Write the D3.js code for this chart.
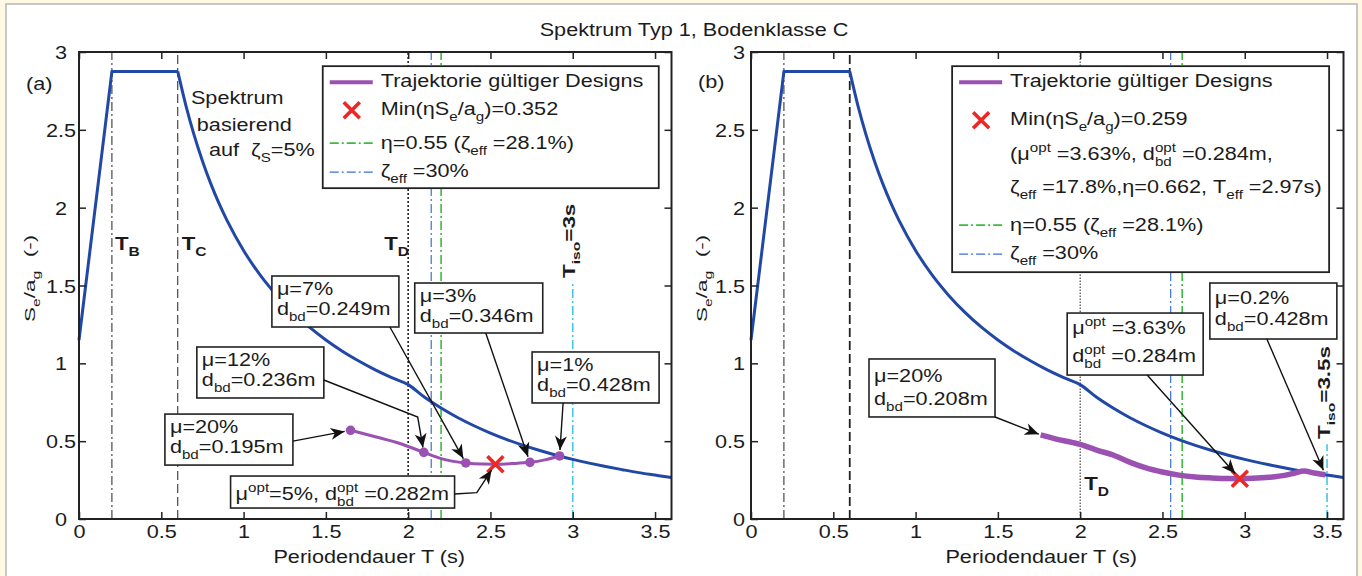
<!DOCTYPE html>
<html><head><meta charset="utf-8">
<script src="https://cdn.jsdelivr.net/npm/d3@7"></script>
<style>
body{margin:0;background:#fdf9e4}
svg{display:block}
text{font-family:"Liberation Sans",Arial,Helvetica,sans-serif;white-space:pre}
</style></head>
<body><svg id="c" width="1362" height="576"></svg>
<script>
// ---------------- DATA ----------------
const xTicks = [0, 0.5, 1, 1.5, 2, 2.5, 3, 3.5];
const xTickLabels = ["0", "0.5", "1", "1.5", "2", "2.5", "3", "3.5"];
const yTicks = [0, 0.5, 1, 1.5, 2, 2.5, 3];
const yTickLabels = ["0", "0.5", "1", "1.5", "2", "2.5", "3"];

// elastic spectrum
const specT = [0, 0.2, 0.6, 0.65, 0.7, 0.75, 0.8, 0.85, 0.9, 1.0, 1.1, 1.2, 1.3, 1.4, 1.5, 1.6, 1.7, 1.8, 1.9, 2.0,
               2.1, 2.2, 2.3, 2.4, 2.5, 2.6, 2.7, 2.8, 2.9, 3.0, 3.1, 3.2, 3.3, 3.4, 3.5, 3.6];
const specV = [1.15, 2.875, 2.875, 2.654, 2.464, 2.300, 2.156, 2.029, 1.917, 1.725, 1.568, 1.438, 1.327, 1.232, 1.150, 1.078, 1.015, 0.958, 0.908, 0.863,
               0.782, 0.713, 0.652, 0.599, 0.552, 0.510, 0.473, 0.440, 0.410, 0.383, 0.359, 0.337, 0.317, 0.298, 0.282, 0.266];

// panel (a): trajectory of valid designs
const trajA_T = [1.65, 1.80, 1.95, 2.095, 2.2, 2.35, 2.45, 2.53, 2.63, 2.74, 2.83, 2.92];
const trajA_V = [0.570, 0.528, 0.485, 0.428, 0.388, 0.360, 0.353, 0.352, 0.356, 0.364, 0.380, 0.405];
const markA_T = [1.65, 2.095, 2.35, 2.74, 2.92];
const markA_V = [0.570, 0.428, 0.360, 0.364, 0.405];
const markA_mu = ["20%", "12%", "7%", "3%", "1%"];
const markA_d = ["0.195m", "0.236m", "0.249m", "0.346m", "0.428m"];
const minA = {T: 2.53, V: 0.352, label: "0.352", mu: "5%", d: "0.282m"};

// panel (b)
const trajB_T = [1.76, 1.85, 1.95, 2.0, 2.05, 2.1, 2.2, 2.3, 2.4, 2.5, 2.6, 2.7, 2.8, 2.9, 2.97, 3.05, 3.15, 3.25, 3.3, 3.36, 3.42, 3.49];
const trajB_V = [0.540, 0.515, 0.492, 0.480, 0.462, 0.443, 0.411, 0.365, 0.328, 0.302, 0.282, 0.270, 0.264, 0.260, 0.259, 0.261, 0.268, 0.282, 0.294, 0.308, 0.296, 0.284];
const minB = {T: 2.97, V: 0.259, label: "0.259", mu: "3.63%", d: "0.284m", zeta: "17.8%", eta: "0.662", Teff: "2.97s"};
const endB_mu = ["20%", "0.2%"];
const endB_d = ["0.208m", "0.428m"];

// reference periods
const TB = 0.2, TC = 0.6, TD = 2.0;
const zeta30_T = [2.14, 2.55];   // (a), (b)
const eta055_T = [2.20, 2.62];
const Tiso = [3.0, 3.5];
const TisoLabel = ["3s", "3.5s"];

// ---------------- LAYOUT ----------------
const SX = 1.17, FS = 18.5;
const BLUE = "#2248a6", PURPLE = "#9b51b1", RED = "#ee2626", GREEN = "#3dbb3d", LBLUE = "#3b6fd6", CYAN = "#44c7e4", INK = "#1b1b1b";

const svg = d3.select("#c");
svg.append("rect").attr("x", 0).attr("y", 0).attr("width", 1362).attr("height", 576).attr("fill", "#fdf9e4");
svg.append("rect").attr("x", 6).attr("y", 4).attr("width", 1351).attr("height", 580).attr("fill", "#fff").attr("stroke", "#b5b5b5").attr("stroke-width", 1.5);

const defs = svg.append("defs");
defs.append("marker").attr("id", "ah").attr("viewBox", "-15 -7 16 14").attr("refX", 0).attr("refY", 0)
  .attr("markerWidth", 16).attr("markerHeight", 14).attr("markerUnits", "userSpaceOnUse").attr("orient", "auto")
  .append("path").attr("d", "M0,0 L-14,-6 L-10,0 L-14,6 Z").attr("fill", "#111");

function rich(parent, x, y, segs, opt = {}) {
  const fs = opt.fs || FS, fss = fs * 0.7;
  const tr = opt.rot ? `translate(${x},${y}) rotate(-90) scale(${opt.ts || 1},1)` : `translate(${x},${y}) scale(${SX},1)`;
  const g = parent.append("g").attr("transform", tr);
  const t = g.append("text").attr("text-anchor", opt.anchor || "start").attr("fill", opt.fill || INK)
    .style("font-size", fs + "px").style("font-weight", opt.bold ? "bold" : null);
  if (typeof segs === "string") segs = [segs];
  const subD = fs * 0.3, supD = -fs * 0.42;
  let off = 0, pend = 0;
  segs.forEach(s => {
    if (typeof s === "string") s = {t: s};
    if (s.stack) {
      const a = t.append("tspan").text(s.sup).style("font-size", fss + "px").attr("dy", supD - off);
      if (pend) a.attr("dx", pend); pend = 0;
      const la = a.node().getComputedTextLength();
      const b = t.append("tspan").text(s.stack).style("font-size", fss + "px").attr("dx", -la).attr("dy", subD - supD);
      const lb = b.node().getComputedTextLength();
      off = subD; pend = Math.max(0, la - lb);
    } else {
      const target = s.sub ? subD : (s.sup ? supD : 0);
      const sp = t.append("tspan").text(s.t).attr("dy", target - off);
      if (pend) sp.attr("dx", pend); pend = 0;
      if (s.sub || s.sup) sp.style("font-size", fss + "px");
      if (s.dx) sp.attr("dx", s.dx);
      off = target;
    }
  });
  return g;
}

// title
rich(svg, 694, 36, "Spektrum Typ 1, Bodenklasse C", {anchor: "middle"});

function panel(cfg) {
  const x = d3.scaleLinear().domain([0, 3.6]).range([cfg.x0, cfg.x0 + 592.5]);
  const y = d3.scaleLinear().domain([0, 3]).range([519, 52]);
  const g = svg.append("g");
  const p = cfg.idx;

  // vertical reference lines
  const vline = (T, v0, v1, col, w, dash) => g.append("line").attr("x1", x(T)).attr("x2", x(T)).attr("y1", y(v0)).attr("y2", y(v1))
    .attr("stroke", col).attr("stroke-width", w).attr("stroke-dasharray", dash);
  vline(TB, 0, 3, "#222", 1, "9,3,2,3");
  vline(TC, 0, 3, "#222", p === 0 ? 1 : 1.8, "9,4");
  vline(TD, 0, 3, "#222", p === 0 ? 1.6 : 1, p === 0 ? "2,2" : "1.5,1.5");
  vline(zeta30_T[p], 0, 3, LBLUE, 1.2, "9,3,2,3");
  vline(eta055_T[p], 0, 3, GREEN, 1.6, "9,3,2,3");
  vline(Tiso[p], 0, p === 0 ? 1.53 : 0.48, CYAN, 1.6, "9,3,2,3");

  // spectrum
  const pts = specT.map((t, i) => [t, specV[i]]);
  const lineLin = d3.line().x(d => x(d[0])).y(d => y(d[1]));
  const lineMono = d3.line().x(d => x(d[0])).y(d => y(d[1])).curve(d3.curveMonotoneX);
  g.append("path").attr("d", lineLin(pts.slice(0, 3))).attr("fill", "none").attr("stroke", BLUE).attr("stroke-width", 3).attr("stroke-linejoin", "round");
  g.append("path").attr("d", lineMono(pts.slice(2))).attr("fill", "none").attr("stroke", BLUE).attr("stroke-width", 3);

  // trajectory
  const tT = p === 0 ? trajA_T : trajB_T, tV = p === 0 ? trajA_V : trajB_V;
  const tp = tT.map((t, i) => [t, tV[i]]);
  g.append("path").attr("d", d3.line().x(d => x(d[0])).y(d => y(d[1])).curve(d3.curveMonotoneX)(tp))
    .attr("fill", "none").attr("stroke", PURPLE).attr("stroke-width", p === 0 ? 3 : 5.5).attr("stroke-linecap", "butt");
  if (p === 0) {
    g.selectAll("circle.m").data(markA_T).enter().append("circle")
      .attr("cx", d => x(d)).attr("cy", (d, i) => y(markA_V[i])).attr("r", 4.8).attr("fill", PURPLE);
  }
  const mn = p === 0 ? minA : minB;
  const cross = (cx, cy, s) => {
    g.append("path").attr("d", `M${cx - s},${cy - s}L${cx + s},${cy + s}M${cx - s},${cy + s}L${cx + s},${cy - s}`)
      .attr("stroke", RED).attr("stroke-width", 3.6).attr("fill", "none");
  };
  cross(x(mn.T), y(mn.V), 8);

  // axes
  const ax = d3.axisBottom(x).tickValues(xTicks).tickFormat((d, i) => xTickLabels[i]).tickSizeInner(-7).tickSizeOuter(0);
  const gb = g.append("g").attr("transform", "translate(0,519)").call(ax);
  gb.selectAll("text").attr("y", 19).attr("dy", 0).attr("transform", `scale(${SX},1)`).style("font-size", FS + "px").attr("fill", INK);
  const gt = g.append("g").attr("transform", "translate(0,52)").call(d3.axisTop(x).tickValues(xTicks).tickFormat("").tickSizeInner(-7).tickSizeOuter(0));
  const ay = d3.axisLeft(y).tickValues(yTicks).tickFormat((d, i) => yTickLabels[i]).tickSizeInner(-7).tickSizeOuter(0);
  const gl = g.append("g").attr("transform", `translate(${cfg.x0},0)`).call(ay);
  gl.selectAll("text").attr("dy", "0.36em").attr("transform", `scale(${SX},1)`).style("font-size", FS + "px").attr("fill", INK)
    .attr("text-anchor", p === 0 ? "middle" : "end").attr("x", p === 0 ? -18 / SX : -6 / SX);
  const gr = g.append("g").attr("transform", `translate(${cfg.x0 + 592.5},0)`).call(d3.axisRight(y).tickValues(yTicks).tickFormat("").tickSizeInner(-7).tickSizeOuter(0));
  [gb, gt, gl, gr].forEach(a => { a.select(".domain").remove(); a.selectAll(".tick line").attr("stroke", "#222").attr("stroke-width", 1.5); a.attr("font-family", null); });
  g.append("rect").attr("x", x(0)).attr("y", y(3)).attr("width", x(3.6) - x(0)).attr("height", y(0) - y(3))
    .attr("fill", "none").attr("stroke", "#222").attr("stroke-width", 2);

  // axis titles
  rich(g, (x(0) + x(3.6)) / 2 - 6, 563, "Periodendauer T (s)", {anchor: "middle"});
  rich(g, cfg.x0 - 44, 322, ["S", {t: "e", sub: 1}, "/a", {t: "g", sub: 1}, {t: "(-)", dx: 9}], {rot: 1, fs: 15, ts: 1.5});
  rich(g, cfg.x0 - 53, p === 0 ? 90 : 88, p === 0 ? "(a)" : "(b)");

  // Tiso label
  rich(g, x(Tiso[p]) + (p === 0 ? 2 : 3), p === 0 ? 278 : 439, ["T", {t: "iso", sub: 1}, "=" + TisoLabel[p]], {bold: 1, rot: 1, fs: 16, ts: 1.4});

  // T labels
  if (p === 0) {
    rich(g, x(TB) + 3, 250, ["T", {t: "B", sub: 1}], {bold: 1, fs: 19});
    rich(g, x(TC) + 4, 250, ["T", {t: "C", sub: 1}], {bold: 1, fs: 19});
    rich(g, x(TD) - 24, 250, ["T", {t: "D", sub: 1}], {bold: 1, fs: 19});
    rich(g, x(0.68), 104, "Spektrum");
    rich(g, x(0.716), 131, "basierend");
    rich(g, x(0.79), 156, ["auf  ζ", {t: "S", sub: 1}, "=5%"]);
  } else {
    rich(g, x(TD) + 4, 490, ["T", {t: "D", sub: 1}], {bold: 1, fs: 19});
  }

  // legend
  const L = cfg.leg;
  const lg = g.append("g").attr("transform", `translate(${x(L.T)},${y(L.V)})`);
  lg.append("rect").attr("width", L.w).attr("height", L.h).attr("fill", "#fff").attr("stroke", "#222").attr("stroke-width", 1.8);
  const lx0 = 7, lx1 = 50, tx = 58;
  lg.append("line").attr("x1", lx0).attr("x2", lx1).attr("y1", 16).attr("y2", 16).attr("stroke", PURPLE).attr("stroke-width", 4);
  rich(lg, tx, 21, "Trajektorie gültiger Designs");
  const xc = 29, yc = L.xRow;
  lg.append("path").attr("d", `M${xc - 8},${yc - 8}L${xc + 8},${yc + 8}M${xc - 8},${yc + 8}L${xc + 8},${yc - 8}`).attr("stroke", RED).attr("stroke-width", 3.6);
  rich(lg, tx, yc + 5, ["Min(ηS", {t: "e", sub: 1}, "/a", {t: "g", sub: 1}, ")=" + mn.label]);
  if (p === 1) {
    rich(lg, tx, 94, ["(μ", {t: "opt", sup: 1}, " =" + mn.mu + ", d", {stack: "bd", sup: "opt"}, " =" + mn.d + ","]);
    rich(lg, tx, 127, ["ζ", {t: "eff", sub: 1}, " =" + mn.zeta + ",η=" + mn.eta + ", T", {t: "eff", sub: 1}, " =" + mn.Teff + ")"]);
  }
  lg.append("line").attr("x1", lx0).attr("x2", lx1).attr("y1", L.gRow).attr("y2", L.gRow).attr("stroke", GREEN).attr("stroke-width", 1.6).attr("stroke-dasharray", "9,3,2,3");
  rich(lg, tx, L.gRow + 6, ["η=0.55 (ζ", {t: "eff", sub: 1}, " =28.1%)"]);
  lg.append("line").attr("x1", lx0).attr("x2", lx1).attr("y1", L.bRow).attr("y2", L.bRow).attr("stroke", LBLUE).attr("stroke-width", 1.4).attr("stroke-dasharray", "9,3,2,3");
  rich(lg, tx, L.bRow + 5, ["ζ", {t: "eff", sub: 1}, " =30%"]);

  // annotation boxes with arrows
  cfg.boxes.forEach(b => {
    const bx = x(b.T), by = y(b.V);
    const bg = g.append("g");
    bg.append("rect").attr("x", bx).attr("y", by).attr("width", b.w).attr("height", b.h).attr("fill", "#fff").attr("stroke", "#222").attr("stroke-width", 1.6);
    b.lines.forEach(l => rich(bg, bx + 5, by + l.dy, l.segs));
    const start = [bx + b.sx, by + b.sy];
    const tgt = [x(b.tT), y(b.tV)];
    const ptsA = [start].concat((b.bend || []).map(q => [x(q[0]), y(q[1])]));
    const last = ptsA[ptsA.length - 1];
    const dx = tgt[0] - last[0], dy = tgt[1] - last[1], len = Math.hypot(dx, dy);
    const tip = [tgt[0] - dx / len * b.gap, tgt[1] - dy / len * b.gap];
    ptsA.push(tip);
    g.append("path").attr("d", d3.line()(ptsA)).attr("fill", "none").attr("stroke", "#111").attr("stroke-width", 1.4).attr("marker-end", "url(#ah)");
  });
}

const dLine = (d) => ["d", {t: "bd", sub: 1}, "=" + d];
const muLine = (m) => ["μ=" + m];

panel({
  idx: 0, x0: 79,
  leg: {T: 1.481, V: 2.909, w: 336, h: 122, xRow: 44, gRow: 77, bRow: 106},
  boxes: [
    {T: 0.522, V: 0.674, w: 128, h: 51, lines: [{dy: 19, segs: muLine(markA_mu[0])}, {dy: 39, segs: dLine(markA_d[0])}],
     sx: 128, sy: 27, tT: markA_T[0], tV: markA_V[0], gap: 6},
    {T: 0.716, V: 1.105, w: 127, h: 51, lines: [{dy: 19, segs: muLine(markA_mu[1])}, {dy: 39, segs: dLine(markA_d[1])}],
     sx: 127, sy: 33, bend: [[2.058, 0.655]], tT: markA_T[1], tV: markA_V[1], gap: 5},
    {T: 1.172, V: 1.561, w: 127, h: 51, lines: [{dy: 19, segs: muLine(markA_mu[2])}, {dy: 39, segs: dLine(markA_d[2])}],
     sx: 118, sy: 51, tT: markA_T[2], tV: markA_V[2], gap: 5},
    {T: 2.04, V: 1.516, w: 128, h: 50, lines: [{dy: 19, segs: muLine(markA_mu[3])}, {dy: 39, segs: dLine(markA_d[3])}],
     sx: 71, sy: 50, tT: markA_T[3], tV: markA_V[3], gap: 6},
    {T: 2.753, V: 1.073, w: 127, h: 51, lines: [{dy: 19, segs: muLine(markA_mu[4])}, {dy: 39, segs: dLine(markA_d[4])}],
     sx: 31, sy: 51, tT: markA_T[4], tV: markA_V[4], gap: 6},
    {T: 0.921, V: 0.276, w: 224, h: 32, lines: [{dy: 24, segs: ["μ", {t: "opt", sup: 1}, "=" + minA.mu + ", d", {stack: "bd", sup: "opt"}, " =" + minA.d]}],
     sx: 224, sy: 18, bend: [[2.417, 0.169]], tT: minA.T, tV: minA.V, gap: 7}
  ]
});

panel({
  idx: 1, x0: 751,
  leg: {T: 1.222, V: 2.909, w: 377, h: 206, xRow: 54, gRow: 159, bRow: 188},
  boxes: [
    {T: 0.717, V: 1.028, w: 126, h: 58, lines: [{dy: 23, segs: muLine(endB_mu[0])}, {dy: 46, segs: dLine(endB_d[0])}],
     sx: 126, sy: 58, tT: trajB_T[0], tV: trajB_V[0], gap: 2},
    {T: 1.921, V: 1.323, w: 136, h: 62, lines: [{dy: 21, segs: ["μ", {t: "opt", sup: 1}, " =" + minB.mu]}, {dy: 49, segs: ["d", {stack: "bd", sup: "opt"}, " =" + minB.d]}],
     sx: 80, sy: 62, tT: minB.T, tV: minB.V, gap: 7},
    {T: 2.788, V: 1.516, w: 127, h: 56, lines: [{dy: 21, segs: muLine(endB_mu[1])}, {dy: 42, segs: dLine(endB_d[1])}],
     sx: 57, sy: 56, tT: trajB_T[trajB_T.length - 1], tV: trajB_V[trajB_V.length - 1], gap: 5}
  ]
});
</script>
</body></html>
